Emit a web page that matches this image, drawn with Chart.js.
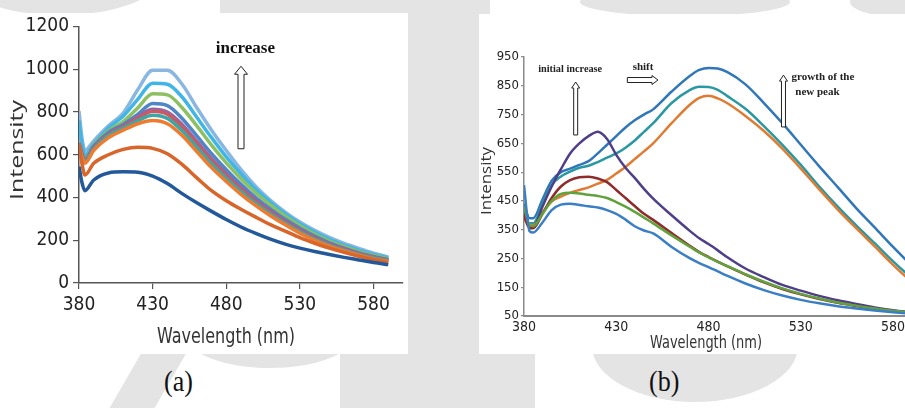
<!DOCTYPE html>
<html>
<head>
<meta charset="utf-8">
<script src="https://cdn.jsdelivr.net/npm/chart.js@4.4.1/dist/chart.umd.min.js"></script>
<style>
  html, body { margin: 0; padding: 0; }
  body { width: 905px; height: 408px; overflow: hidden; position: relative; background: #fff; }
  .wm { position: absolute; background: #e4e4e4; }
  .panel { position: absolute; background: #fff; }
  .cap { position: absolute; font-family: "Liberation Serif", serif; font-size: 26px; color: #111; transform: scaleY(1.15); }
</style>
</head>
<body>
<!-- faded watermark behind the two panels -->
<div class="wm" style="left:-40px;top:-60px;width:200px;height:75px;border-radius:50%"></div>
<div class="wm" style="left:220px;top:-20px;width:270px;height:36px"></div>
<div class="wm" style="left:400px;top:0;width:90px;height:408px"></div>
<div class="wm" style="left:580px;top:-12px;width:210px;height:28px;border-radius:50%"></div>
<div class="wm" style="left:850px;top:-12px;width:90px;height:28px;border-radius:50%"></div>
<div class="wm" style="left:340px;top:340px;width:195px;height:80px"></div>
<div class="wm" style="left:592px;top:290px;width:206px;height:112px;border-radius:50%"></div>
<div class="wm" style="left:185px;top:300px;width:170px;height:68px;border-radius:50%"></div>
<div class="wm" style="left:120px;top:350px;width:45px;height:80px;transform:skewX(-30deg)"></div>

<div class="panel" style="left:0;top:13px;width:408px;height:341px">
  <canvas id="chartA" width="408" height="341"></canvas>
</div>
<div class="panel" style="left:479px;top:14px;width:460px;height:340px">
  <canvas id="chartB" width="460" height="340"></canvas>
</div>
<div class="cap" style="left:164px;top:367px">(a)</div>
<div class="cap" style="left:649px;top:367px">(b)</div>

<script>
// (a) wavelength grid and spectra
const wlA = [380, 382, 384, 390, 400, 410, 420, 430, 440, 450, 460, 470, 480, 490, 500, 510, 520, 530, 540, 550, 560, 570, 580, 590];
const aDarkBlue = [545, 470, 432, 482, 515, 520, 518, 500, 465, 418, 375, 335, 297, 262, 232, 205, 182, 163, 147, 133, 120, 108, 96, 86];
const aOrangeLow = [650, 560, 505, 560, 600, 625, 635, 630, 605, 555, 492, 432, 385, 345, 308, 273, 243, 212, 186, 163, 143, 125, 109, 95];
const aOrange = [640, 590, 560, 620, 680, 715, 745, 760, 745, 690, 615, 540, 475, 415, 362, 315, 272, 233, 200, 172, 150, 130, 113, 100];
const aTeal = [645, 595, 568, 628, 690, 725, 760, 785, 770, 712, 635, 558, 490, 428, 372, 323, 279, 240, 206, 177, 154, 134, 117, 103];
const aRed = [650, 600, 572, 632, 695, 730, 770, 803, 790, 730, 652, 572, 502, 438, 381, 330, 285, 245, 210, 180, 157, 136, 119, 105];
const aPurple = [655, 605, 575, 635, 698, 735, 778, 813, 800, 742, 662, 582, 510, 445, 387, 336, 290, 249, 213, 183, 159, 138, 121, 107];
const aBlue = [655, 608, 578, 640, 705, 742, 790, 840, 830, 770, 688, 605, 530, 462, 400, 346, 298, 256, 219, 188, 163, 141, 124, 109];
const aGreen = [660, 612, 582, 645, 712, 755, 820, 885, 880, 820, 735, 645, 562, 488, 422, 364, 312, 268, 229, 196, 170, 147, 129, 113];
const aCyan = [760, 650, 600, 650, 725, 780, 860, 935, 930, 870, 775, 680, 590, 510, 438, 377, 323, 277, 238, 204, 177, 154, 134, 117];
const aPale = [805, 680, 620, 665, 735, 795, 905, 995, 995, 930, 820, 715, 620, 530, 452, 387, 332, 285, 246, 213, 185, 162, 140, 122];
const xTicksA = [380, 430, 480, 530, 580];
const yTicksA = [0, 200, 400, 600, 800, 1000, 1200];

// (b) wavelength grid and spectra
const wlB = [380, 383, 385, 390, 395, 400, 405, 410, 415, 420, 425, 430, 435, 440, 445, 450, 460, 470, 475, 480, 485, 490, 500, 510, 520, 530, 540, 550, 560, 570, 580, 590];
const bBlueLow = [505, 345, 340, 375, 418, 437, 440, 436, 431, 427, 418, 405, 385, 362, 347, 337, 290, 250, 234, 220, 205, 190, 163, 140, 121, 106, 94, 84, 76, 69, 63, 58];
const bGreen = [430, 365, 362, 405, 450, 474, 478, 476, 471, 467, 460, 446, 430, 412, 392, 372, 330, 290, 270, 254, 238, 224, 195, 169, 146, 127, 111, 97, 86, 76, 68, 62];
const bRed = [400, 355, 355, 405, 460, 500, 522, 532, 534, 528, 515, 488, 460, 432, 405, 384, 338, 293, 272, 255, 239, 223, 194, 167, 144, 125, 109, 96, 85, 75, 67, 61];
const bPurple = [410, 360, 358, 430, 500, 560, 615, 650, 675, 690, 665, 610, 565, 530, 492, 458, 400, 345, 320, 300, 278, 255, 215, 185, 158, 138, 120, 105, 92, 80, 70, 62];
const bOrange = [385, 368, 365, 410, 448, 465, 478, 488, 497, 510, 523, 545, 568, 595, 622, 650, 720, 785, 808, 815, 806, 790, 745, 693, 632, 562, 490, 420, 355, 292, 228, 168];
const bTeal = [430, 372, 372, 440, 505, 535, 552, 565, 572, 585, 600, 615, 635, 660, 690, 720, 790, 836, 847, 846, 836, 815, 770, 710, 645, 575, 500, 430, 365, 303, 240, 182];
const bBlueTop = [440, 390, 390, 455, 520, 550, 562, 575, 588, 615, 645, 675, 705, 730, 750, 768, 830, 885, 905, 912, 910, 898, 855, 790, 720, 645, 570, 498, 425, 358, 290, 225];
const xTicksB = [380, 430, 480, 530, 580];
const yTicksB = [50, 150, 250, 350, 450, 550, 650, 750, 850, 950];

const TICK_FONT = '"DejaVu Sans Condensed", "Liberation Sans", sans-serif';

function pts(xs, ys) {
  return xs.map((x, i) => ({ x: x, y: ys[i] }));
}

function lineSet(xs, ys, color, width) {
  return {
    data: pts(xs, ys),
    borderColor: color,
    borderWidth: width,
    pointRadius: 0,
    fill: false,
    cubicInterpolationMode: 'monotone'
  };
}

// hollow block arrow, like the ones in the figure
function drawArrow(ctx, x1, y1, x2, y2, shaft, head, headLen) {
  const ang = Math.atan2(y2 - y1, x2 - x1);
  const len = Math.hypot(x2 - x1, y2 - y1);
  ctx.save();
  ctx.translate(x1, y1);
  ctx.rotate(ang);
  ctx.beginPath();
  ctx.moveTo(0, -shaft / 2);
  ctx.lineTo(len - headLen, -shaft / 2);
  ctx.lineTo(len - headLen, -head / 2);
  ctx.lineTo(len, 0);
  ctx.lineTo(len - headLen, head / 2);
  ctx.lineTo(len - headLen, shaft / 2);
  ctx.lineTo(0, shaft / 2);
  ctx.closePath();
  ctx.fillStyle = '#fff';
  ctx.fill();
  ctx.lineWidth = 1;
  ctx.strokeStyle = '#222';
  ctx.stroke();
  ctx.restore();
}

function drawText(ctx, t, x, y) {
  ctx.save();
  ctx.font = t.font;
  ctx.fillStyle = t.color || '#222';
  ctx.textBaseline = 'middle';
  ctx.translate(x, y);
  if (t.rotate) ctx.rotate(t.rotate);
  let sx = 1;
  if (t.width) sx = t.width / ctx.measureText(t.text).width;
  ctx.scale(sx, 1);
  ctx.textAlign = t.align || 'center';
  ctx.fillText(t.text, 0, 0);
  ctx.restore();
}

const extras = {
  id: 'extras',
  afterDraw(chart, args, opts) {
    const ctx = chart.ctx;
    const xs = chart.scales.x, ys = chart.scales.y;
    (opts.arrows || []).forEach(a => {
      drawArrow(ctx, xs.getPixelForValue(a.from[0]), ys.getPixelForValue(a.from[1]),
        xs.getPixelForValue(a.to[0]), ys.getPixelForValue(a.to[1]), a.shaft, a.head, a.headLen);
    });
    (opts.notes || []).forEach(t => drawText(ctx, t, xs.getPixelForValue(t.x), ys.getPixelForValue(t.y)));
    (opts.titles || []).forEach(t => drawText(ctx, t, t.px, t.py));
  }
};

function axisOpts(min, max, ticks, fit, font, tickLen, pad, axisColor, axisWidth) {
  return {
    type: 'linear',
    min: min,
    max: max,
    afterBuildTicks: s => { s.ticks = ticks.map(v => ({ value: v })); },
    afterFit: fit,
    grid: { display: true, drawOnChartArea: false, drawTicks: tickLen > 0, tickLength: tickLen, color: axisColor, lineWidth: 1.2 },
    border: { display: true, color: axisColor, width: axisWidth },
    ticks: { font: font, color: '#222', padding: pad, maxRotation: 0, autoSkip: false, callback: v => String(v) }
  };
}

// chart (a)
new Chart(document.getElementById('chartA'), {
  type: 'line',
  data: {
    datasets: [
      lineSet(wlA, aDarkBlue, '#23599a', 3.5),
      lineSet(wlA, aOrangeLow, '#d8652a', 3.5),
      lineSet(wlA, aOrange, '#ee7b30', 3.5),
      lineSet(wlA, aTeal, '#3fa6a6', 3.5),
      lineSet(wlA, aRed, '#c85a62', 3.5),
      lineSet(wlA, aPurple, '#9466a8', 3.5),
      lineSet(wlA, aBlue, '#4f86c6', 3.5),
      lineSet(wlA, aGreen, '#8cc063', 3.5),
      lineSet(wlA, aCyan, '#3fb6e6', 3.5),
      lineSet(wlA, aPale, '#8ab6e2', 3.5)
    ]
  },
  options: {
    responsive: false,
    animation: false,
    layout: { padding: { top: 12, right: 5, left: 0, bottom: 0 } },
    plugins: {
      legend: { display: false },
      tooltip: { enabled: false },
      extras: {
        arrows: [{ from: [490, 628], to: [490, 1014], shaft: 6, head: 13, headLen: 8 }],
        notes: [{ text: 'increase', x: 493, y: 1098, font: 'bold 17px "Liberation Serif"', color: '#111' }],
        titles: [
          { text: 'Wavelength (nm)', px: 226, py: 324, font: '22px "DejaVu Sans", sans-serif', width: 138, color: '#333' },
          { text: 'Intensity', px: 18, py: 137, font: '18px "Open Sans"', width: 100, rotate: -Math.PI / 2, color: '#333' }
        ]
      }
    },
    scales: {
      x: axisOpts(380, 600, xTicksA, s => { s.height = 71; }, { family: TICK_FONT, size: 19 }, 6, 5, '#555', 1.5),
      y: axisOpts(0, 1200, yTicksA, s => { s.width = 79; }, { family: TICK_FONT, size: 19, lineHeight: 1 }, 6, 4, '#555', 1.5)
    }
  },
  plugins: [extras]
});

// chart (b)
new Chart(document.getElementById('chartB'), {
  type: 'line',
  data: {
    datasets: [
      lineSet(wlB, bBlueLow, '#3a7fc6', 2.5),
      lineSet(wlB, bGreen, '#62a23e', 2.5),
      lineSet(wlB, bRed, '#8e2c2c', 2.5),
      lineSet(wlB, bPurple, '#4f3f88', 2.5),
      lineSet(wlB, bOrange, '#e07b32', 2.5),
      lineSet(wlB, bTeal, '#2a98a2', 2.5),
      lineSet(wlB, bBlueTop, '#2f77b8', 2.5)
    ]
  },
  options: {
    responsive: false,
    animation: false,
    layout: { padding: { top: 43, right: 9, left: 0, bottom: 0 } },
    plugins: {
      legend: { display: false },
      tooltip: { enabled: false },
      extras: {
        arrows: [
          { from: [408, 679], to: [408, 863], shaft: 4, head: 8, headLen: 6 },
          { from: [436, 870], to: [452.6, 870], shaft: 5, head: 9, headLen: 6 },
          { from: [520.6, 707], to: [520.6, 887], shaft: 4, head: 8, headLen: 6 }
        ],
        notes: [
          { text: 'initial increase', x: 405, y: 908, font: 'bold 11px "Liberation Serif"', width: 64, color: '#222' },
          { text: 'shift', x: 444.5, y: 915, font: 'bold 11px "Liberation Serif"', color: '#222' },
          { text: 'growth of the', x: 525, y: 880, font: 'bold 11px "Liberation Serif"', align: 'left', color: '#222' },
          { text: 'new peak', x: 527, y: 828, font: 'bold 11px "Liberation Serif"', align: 'left', color: '#222' }
        ],
        titles: [
          { text: 'Wavelength (nm)', px: 227, py: 329, font: '18px "DejaVu Sans", sans-serif', width: 112, color: '#333' },
          { text: 'Intensity', px: 8, py: 167, font: '14px "Open Sans"', width: 68, rotate: -Math.PI / 2, color: '#333' }
        ]
      }
    },
    scales: {
      x: axisOpts(380, 600, xTicksB, s => { s.height = 38; }, { family: TICK_FONT, size: 14 }, 0, 3, '#8a8a8a', 2),
      y: axisOpts(50, 950, yTicksB, s => { s.width = 45; }, { family: TICK_FONT, size: 13, lineHeight: 1 }, 3, 2, '#8a8a8a', 1.5)
    }
  },
  plugins: [extras]
});
</script>
</body>
</html>
